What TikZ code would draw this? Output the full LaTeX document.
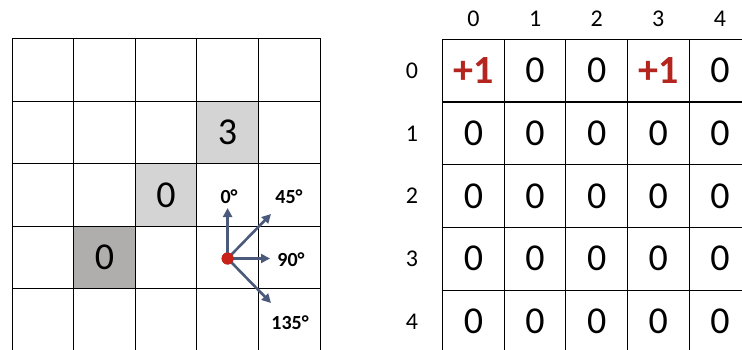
\documentclass[tikz,border=0pt]{standalone}
\usepackage{fontspec}
\setmainfont{Carlito}
\usetikzlibrary{arrows.meta}
\definecolor{lightg}{HTML}{D4D4D4}
\definecolor{darkg}{HTML}{B0ADAD}
\definecolor{arrowc}{RGB}{75,90,122}
\definecolor{redc}{HTML}{B5251F}
\definecolor{dotc}{HTML}{C8211A}
\tikzset{
  cell/.style={draw=black, line width=0.9pt, minimum width=61.6pt, minimum height=62.6pt, inner sep=0pt, anchor=center, font=\fontsize{38}{38}\selectfont},
  plus/.style={text=redc, font=\fontsize{40}{40}\selectfont\bfseries},
  hdr/.style={font=\fontsize{24}{24}\selectfont, inner sep=0pt},
  deg/.style={font=\fontsize{20}{20}\selectfont\bfseries, inner sep=0pt},
  dirarrow/.style={draw=arrowc, line width=2.6pt, -{Triangle[length=9pt,width=9pt]}},
}
\begin{document}
\begin{tikzpicture}[x=1pt,y=-1pt]
\useasboundingbox (0,0) rectangle (742,350);
% left grid
\foreach \r in {0,...,4}{
  \foreach \c in {0,...,4}{
    \node[cell] (L\r\c) at ({12+30.8+61.6*\c},{38.5+31.3+62.6*\r}) {};
  }
}
\node[cell, fill=lightg] (L13b) at (L13) {3};
\node[cell, fill=lightg] (L22b) at (L22) {0};
\node[cell, fill=darkg] (L31b) at (L31) {0};
% direction arrows
\node[circle, fill=dotc, minimum size=12pt, inner sep=0pt] (dot) at (227.6,258.5) {};
\coordinate (a0) at (227.6,208);
\coordinate (a45) at (271,214);
\coordinate (a90) at (270,258.5);
\coordinate (a135) at (271,303);
\draw[dirarrow] (dot.center) -- (a0);
\draw[dirarrow] (dot.center) -- (a45);
\draw[dirarrow] (dot.center) -- (a90);
\draw[dirarrow] (dot.center) -- (a135);
\node[circle, fill=dotc, minimum size=12pt, inner sep=0pt] (dottop) at (dot) {};
\node[deg] (t0) at (229,197) {0°};
\node[deg] (t45) at (289,197) {45°};
\node[deg] (t90) at (291,259.5) {90°};
\node[deg] (t135) at (290,323) {135°};
% right grid
\foreach \r in {1,...,4}{
  \foreach \c in {0,...,4}{
    \node[cell] (R\r\c) at ({442.7+30.8+61.6*\c},{39.3+31.35+62.7*\r}) {0};
  }
}
\foreach \c/\t/\s in {0/+1/plus,1/0/cell,2/0/cell,3/+1/plus,4/0/cell}{
  \node[cell,\s] (R0\c) at ({442.7+30.8+61.6*\c},{39.3+31.35}) {\t};
}
\foreach \r in {0,...,4}{
  \node[hdr] (rl\r) at (412,{39.3+31.35+62.7*\r}) {\r};
  \node[hdr] (cl\r) at ({442.7+30.8+61.6*\r},18.5) {\r};
}
\end{tikzpicture}
\end{document}
